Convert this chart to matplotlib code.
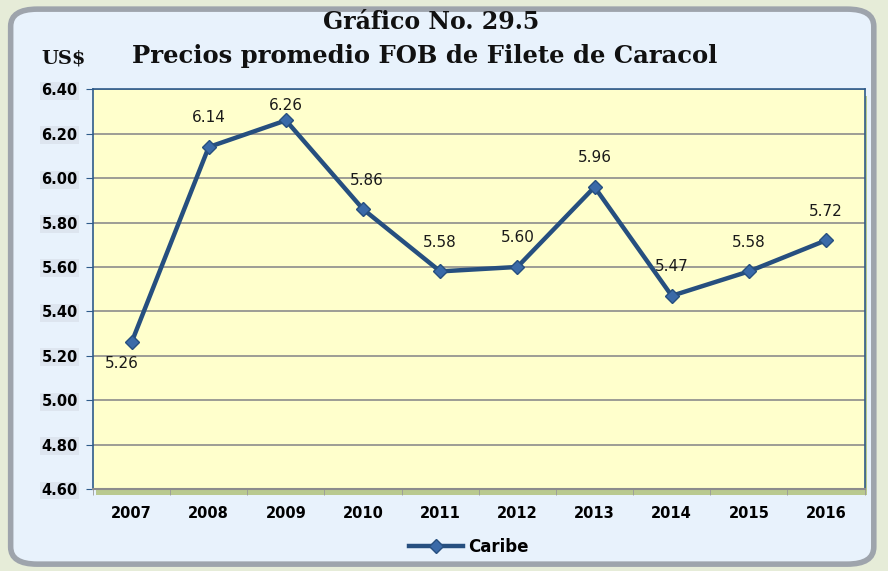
import numpy as np
import matplotlib
matplotlib.use("Agg")
import matplotlib.pyplot as plt
from matplotlib.patches import FancyBboxPatch, Rectangle

years = ['2007', '2008', '2009', '2010', '2011', '2012', '2013', '2014', '2015', '2016']
caribe = [5.26, 6.14, 6.26, 5.86, 5.58, 5.60, 5.96, 5.47, 5.58, 5.72]
yticks = [4.60, 4.80, 5.00, 5.20, 5.40, 5.60, 5.80, 6.00, 6.20, 6.40]

fig = plt.figure(figsize=(8.88, 5.71), dpi=100)
fig.patch.set_facecolor('#e6ecd8')

# rounded panel behind everything
panel = FancyBboxPatch((0.012, 0.012), 0.972, 0.972, boxstyle="round,pad=0,rounding_size=0.03",
                       transform=fig.transFigure, facecolor='#e8f2fc', edgecolor='#9ea4ac',
                       linewidth=4, zorder=-2)
fig.patches.append(panel)

ax_l, ax_b, ax_w, ax_h = 0.1047, 0.1436, 0.869, 0.700
# green shadow under plot area
shadow = Rectangle((ax_l + 0.003, ax_b - 0.011), ax_w, ax_h, transform=fig.transFigure,
                   facecolor='#b9c98f', edgecolor='none', zorder=-1)
fig.patches.append(shadow)

ax = fig.add_axes([ax_l, ax_b, ax_w, ax_h])
ax.set_facecolor('#ffffcc')

x = np.arange(len(years))
ax.plot(x, caribe, color='#264f7f', linewidth=3.2, marker='D', markersize=7,
        markerfacecolor='#3a6aa8', markeredgecolor='#264f7f', markeredgewidth=1, zorder=3,
        label='Caribe')

# label offsets in points (first one sits below, the top one is squeezed)
for i, v in enumerate(caribe):
    if i == 0:
        off = (-7, -15)
    elif i == 2:
        off = (0, 11)
    elif i == 3:
        off = (3, 21)
    else:
        off = (0, 21)
    ax.annotate(f'{v:.2f}', (i, v), xytext=off, textcoords='offset points',
                ha='center', va='center', fontsize=11, color='#1a1a1a')

ax.set_xlim(-0.5, len(years) - 0.5)
ax.set_ylim(4.60, 6.40)
ax.set_yticks(yticks)
ax.set_yticklabels([f'{t:.2f}' for t in yticks], fontsize=10.5, fontweight='bold')
ax.set_xticks(x)
ax.set_xticklabels(years, fontsize=10.5, fontweight='bold')
ax.set_xticks(np.arange(-0.5, len(years), 1), minor=True)
ax.tick_params(axis='x', which='major', length=0, pad=12)
ax.tick_params(axis='x', which='minor', length=4, color='#999999')
ax.tick_params(axis='y', length=5, color='#2e5b8a', pad=6)
for lab in ax.get_yticklabels():
    lab.set_bbox(dict(facecolor='#dde5ef', edgecolor='none', pad=1))

ax.grid(axis='y', color='#8c8c8c', linewidth=1.2)
ax.set_axisbelow(True)
for s in ['left', 'top', 'right']:
    ax.spines[s].set_color('#2e5b8a')
    ax.spines[s].set_linewidth(1.2)
ax.spines['bottom'].set_color('#8c8c8c')
ax.spines['bottom'].set_linewidth(1.5)

fig.text(0.485, 0.962, 'Gráfico No. 29.5', ha='center', va='center', fontsize=17,
         fontweight='bold', family='DejaVu Serif', color='#111111')
fig.text(0.478, 0.902, 'Precios promedio FOB de Filete de Caracol', ha='center', va='center',
         fontsize=17.5, fontweight='bold', family='DejaVu Serif', color='#111111')
fig.text(0.072, 0.897, 'US$', ha='center', va='center', fontsize=14,
         fontweight='bold', family='DejaVu Serif', color='#111111')

leg = fig.legend(handles=ax.get_lines(), loc='center', bbox_to_anchor=(0.528, 0.042),
                 frameon=False, handlelength=3.2, handletextpad=0.3,
                 prop={'weight': 'bold', 'size': 12})

fig.savefig('out.png', dpi=100, facecolor=fig.get_facecolor())
